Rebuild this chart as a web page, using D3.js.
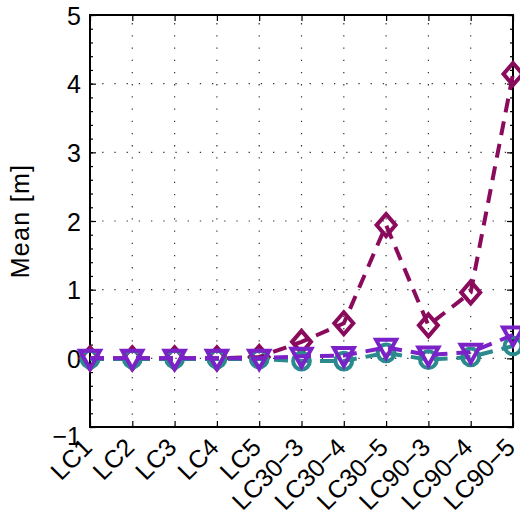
<!DOCTYPE html>
<html>
<head>
<meta charset="utf-8">
<script src="https://cdn.jsdelivr.net/npm/d3@7/dist/d3.min.js"></script>
<style>
  html, body { margin: 0; padding: 0; background: #fff; }
  svg { display: block; font-family: "Liberation Sans", Arial, sans-serif; }
</style>
</head>
<body>
<svg id="chart" width="520" height="518"></svg>
<script>
// Load cases along the x axis
const categories = ["LC1", "LC2", "LC3", "LC4", "LC5", "LC30\u22123", "LC30\u22124", "LC30\u22125", "LC90\u22123", "LC90\u22124", "LC90\u22125"];

// Mean values per series [m]
const seriesDiamond  = [0.00, 0.00, 0.00, 0.00, 0.02, 0.24, 0.51, 1.94, 0.48, 0.96, 4.14];
const seriesCircle   = [-0.01, -0.01, -0.01, -0.01, -0.01, -0.04, -0.04, 0.08, -0.02, 0.02, 0.18];
const seriesTriangle = [0.00, 0.00, 0.00, 0.00, 0.00, 0.03, 0.04, 0.16, 0.05, 0.09, 0.34];

const yTicks = [-1, 0, 1, 2, 3, 4, 5];

const svg = d3.select("#chart");
const margin = { left: 90, right: 7, top: 15, bottom: 91 };
const W = 520, H = 518;
const iw = W - margin.left - margin.right;
const ih = H - margin.top - margin.bottom;

const x = d3.scalePoint().domain(categories).range([0, iw]);
const y = d3.scaleLinear().domain([-1, 5]).range([ih, 0]);

const g = svg.append("g").attr("transform", `translate(${margin.left},${margin.top})`);

// Dotted grid
const grid = g.append("g").attr("stroke", "#333").attr("stroke-width", 1.2).attr("stroke-dasharray", "1.3,10.9");
grid.selectAll("line.v").data(categories.slice(1, -1)).join("line")
  .attr("x1", d => x(d)).attr("x2", d => x(d)).attr("y1", ih).attr("y2", 0);
grid.selectAll("line.h").data(yTicks.slice(1, -1)).join("line")
  .attr("x1", 0).attr("x2", iw).attr("y1", d => y(d)).attr("y2", d => y(d));

// Axes with ticks pointing inward
const minorTicks = d3.range(-1, 5.0001, 0.2).map(v => +v.toFixed(1));
const fmt = d => d < 0 ? "\u2212" + Math.abs(d) : String(d);
const axL = g.append("g").call(d3.axisLeft(y).tickValues(yTicks).tickSize(-6).tickPadding(9).tickFormat(fmt));
const axR = g.append("g").attr("transform", `translate(${iw},0)`).call(d3.axisRight(y).tickValues(yTicks).tickSize(-6).tickFormat(""));
const axLm = g.append("g").call(d3.axisLeft(y).tickValues(minorTicks).tickSize(-3).tickFormat(""));
const axRm = g.append("g").attr("transform", `translate(${iw},0)`).call(d3.axisRight(y).tickValues(minorTicks).tickSize(-3).tickFormat(""));
const axB = g.append("g").attr("transform", `translate(0,${ih})`).call(d3.axisBottom(x).tickSize(-6));
const axT = g.append("g").call(d3.axisTop(x).tickSize(-6).tickFormat(""));

[axL, axR, axLm, axRm, axB, axT].forEach(a => {
  a.select(".domain").remove();
  a.selectAll(".tick line").attr("stroke", "#000").attr("stroke-width", 1.2);
});
axL.selectAll("text")
  .attr("font-size", 25).attr("fill", "#000")
  .attr("dy", d => d === -1 ? "0.68em" : "0.36em");
axB.selectAll("text")
  .attr("font-size", 25).attr("fill", "#000")
  .attr("text-anchor", "end")
  .attr("x", 0).attr("y", 0).attr("dy", 0)
  .attr("transform", "translate(3,22) rotate(-45)");

// Frame
g.append("rect").attr("x", 0).attr("y", 0).attr("width", iw).attr("height", ih)
  .attr("fill", "none").attr("stroke", "#000").attr("stroke-width", 2);

// Y label
svg.append("text")
  .attr("transform", `translate(29,${margin.top + ih / 2}) rotate(-90)`)
  .attr("text-anchor", "middle")
  .attr("font-size", 25)
  .attr("letter-spacing", 1.3)
  .text("Mean [m]");

const line = d3.line().x((d, i) => x(categories[i])).y(d => y(d));

const series = [
  { values: seriesDiamond,  color: "#8a0a5c", shape: "diamond" },
  { values: seriesCircle,   color: "#2a8a8e", shape: "circle" },
  { values: seriesTriangle, color: "#7a22c8", shape: "triangle" }
];

const plot = g.append("g");
series.forEach(s => {
  plot.append("path").datum(s.values)
    .attr("d", line)
    .attr("fill", "none")
    .attr("stroke", s.color)
    .attr("stroke-width", 4)
    .attr("stroke-dasharray", "14,9");
  const m = plot.append("g").selectAll("path").data(s.values).join("path")
    .attr("transform", (d, i) => `translate(${x(categories[i])},${y(d)})`)
    .attr("fill", "none")
    .attr("stroke", s.color)
    .attr("stroke-width", 4);
  if (s.shape === "diamond") m.attr("d", "M0,-11L9.5,0L0,11L-9.5,0Z");
  else if (s.shape === "circle") m.attr("d", d3.symbol(d3.symbolCircle, 220)());
  else m.attr("d", "M-10,-7.5L10,-7.5L0,10.5Z");
});
</script>
</body>
</html>
